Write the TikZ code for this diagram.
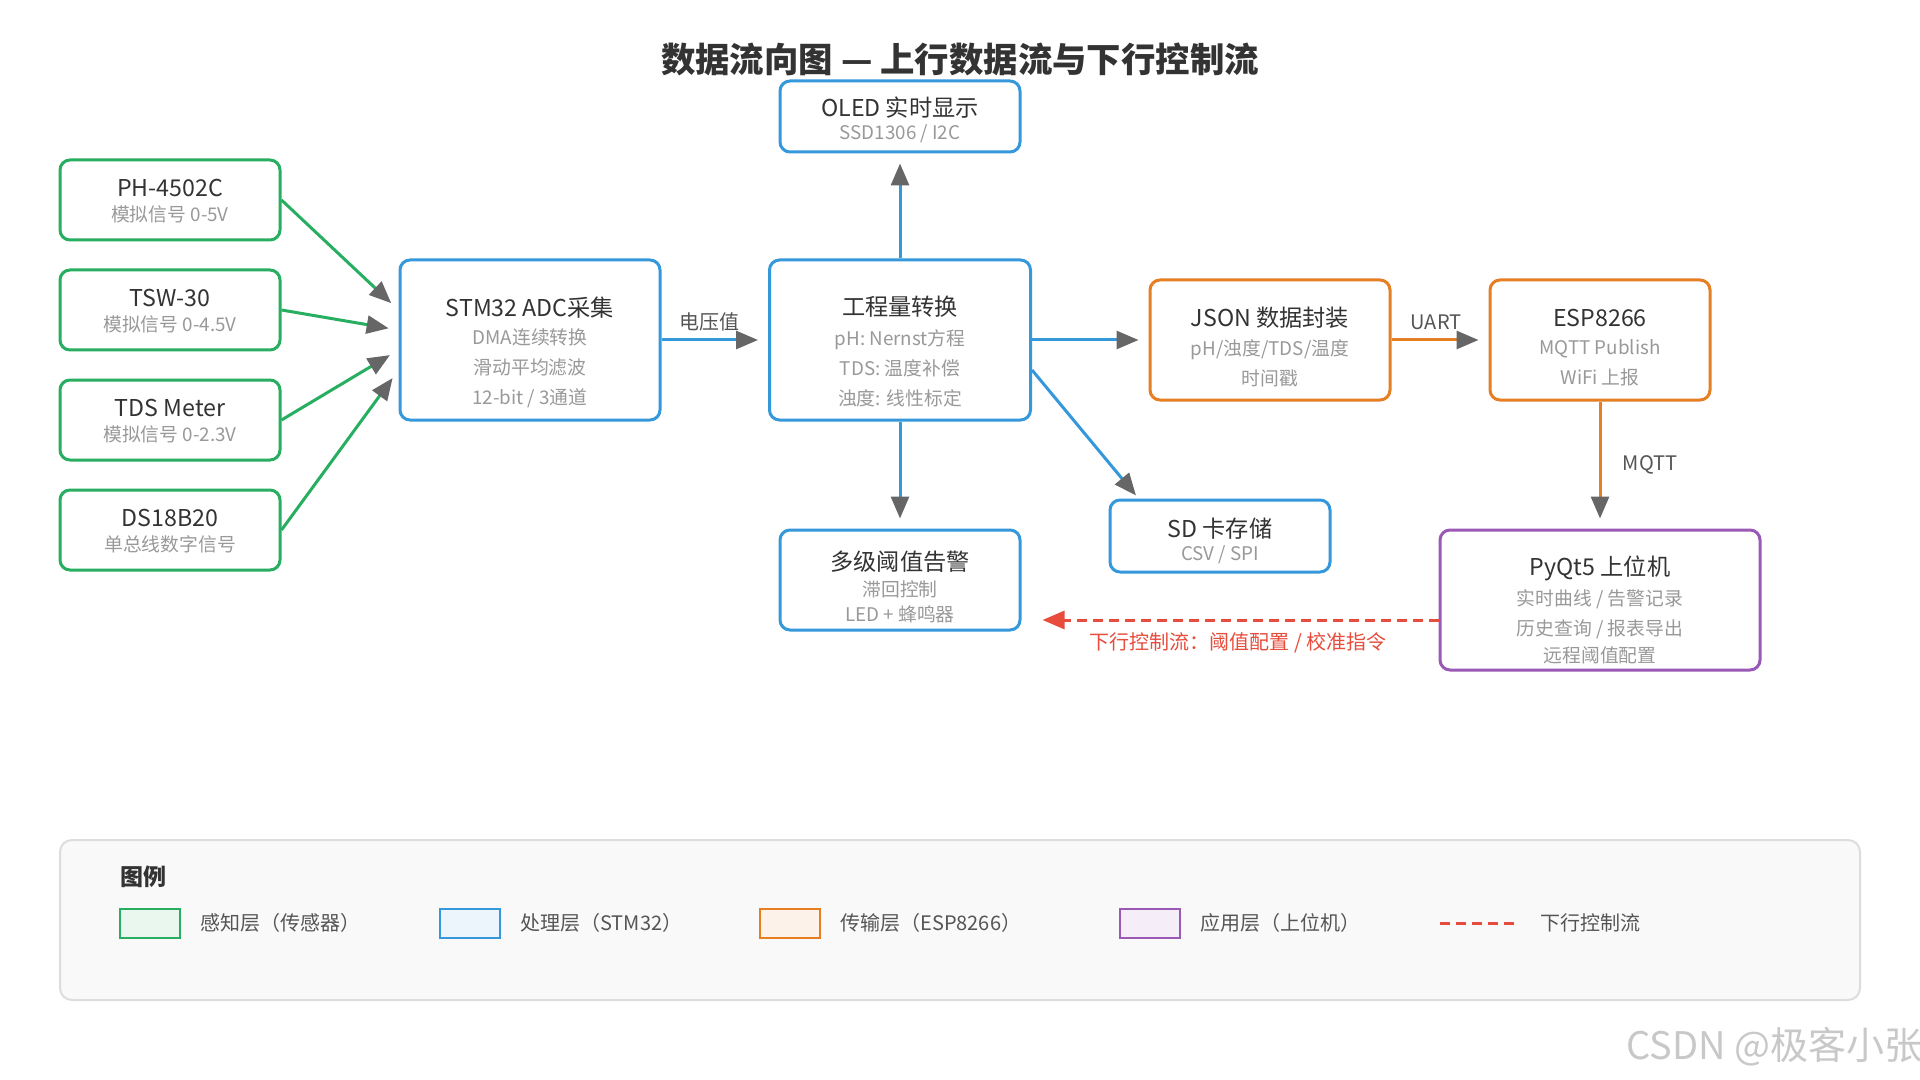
\documentclass[tikz,border=0pt]{standalone}
\usepackage{fontspec}
\setmainfont{Noto Sans CJK SC}
\usetikzlibrary{arrows.meta,calc}
\definecolor{sensegreen}{HTML}{27AE60}
\definecolor{procblue}{HTML}{3498DB}
\definecolor{transorange}{HTML}{E67E22}
\definecolor{apppurple}{HTML}{9B59B6}
\definecolor{ctrlred}{HTML}{E74C3C}
\definecolor{tipgray}{HTML}{666666}
\definecolor{subgray}{HTML}{999999}
\definecolor{ink}{HTML}{333333}
\definecolor{labelgray}{HTML}{555555}
\definecolor{panelbg}{HTML}{F9F9F9}
\definecolor{panelline}{HTML}{DDDDDD}
\definecolor{wmgray}{HTML}{C8C8C8}

\begin{document}
\begin{tikzpicture}[x=0.5pt, y=-0.5pt,
  box/.style={draw, rounded corners=5pt, line width=1.5pt, fill=white},
  sensor/.style={box, draw=sensegreen, minimum width=110pt, minimum height=40pt},
  ttl/.style={font=\fontsize{11.6pt}{14pt}\selectfont, text=ink, inner sep=0pt},
  sub/.style={font=\fontsize{9.4pt}{15pt}\selectfont, text=subgray, align=center, inner sep=0pt},
  flow/.style={line width=1.5pt, shorten >=5pt, -{Triangle[length=11pt,width=9pt,color=tipgray]}},
  ctrlflow/.style={ctrlred, line width=1.5pt, dash pattern=on 5pt off 3pt, shorten >=10.5pt, -{Triangle[length=11pt,width=9pt]}},
  elabel/.style={font=\fontsize{10pt}{12pt}\selectfont, text=labelgray, inner sep=0pt},
  swatch/.style={draw, line width=1.25pt, minimum width=30pt, minimum height=14.5pt, inner sep=0pt},
  legtext/.style={font=\fontsize{10pt}{12pt}\selectfont, text=labelgray, anchor=west, inner sep=0pt},
]
  \fill[white] (0,0) rectangle (1920,1080);
  \useasboundingbox (0,0) rectangle (1920,1080);

  \node[font=\fontsize{17.2pt}{20pt}\selectfont\bfseries, text=ink] (title) at (960,59) {数据流向图 — 上行数据流与下行控制流};

  % sensing layer
  \node[sensor] (ph) at (170,200) {};
  \node[ttl] (ph-t) at (170,188) {PH-4502C};
  \node[sub] (ph-s) at (170,214) {模拟信号 0-5V};
  \node[sensor] (tsw) at (170,310) {};
  \node[ttl] (tsw-t) at (170,298) {TSW-30};
  \node[sub] (tsw-s) at (170,324) {模拟信号 0-4.5V};
  \node[sensor] (tds) at (170,420) {};
  \node[ttl] (tds-t) at (170,408) {TDS Meter};
  \node[sub] (tds-s) at (170,434) {模拟信号 0-2.3V};
  \node[sensor] (ds) at (170,530) {};
  \node[ttl] (ds-t) at (170,518) {DS18B20};
  \node[sub] (ds-s) at (170,544) {单总线数字信号};

  % processing layer
  \node[box, draw=procblue, minimum width=130pt, minimum height=80pt] (adc) at (530,340) {};
  \node[ttl] (adc-t) at (530,308) {STM32 ADC采集};
  \node[sub] (adc-s) at (530,368) {DMA连续转换\\滑动平均滤波\\12-bit / 3通道};
  \node[box, draw=procblue, minimum width=130.5pt, minimum height=80pt] (conv) at (900,340) {};
  \node[ttl] (conv-t) at (900,307) {工程量转换};
  \node[sub] (conv-s) at (900,368) {pH: Nernst方程\\TDS: 温度补偿\\浊度: 线性标定};
  \node[box, draw=procblue, minimum width=120pt, minimum height=35.5pt] (oled) at (900,116.5) {};
  \node[ttl] (oled-t) at (900,108) {OLED 实时显示};
  \node[sub] (oled-s) at (900,134) {SSD1306 / I2C};
  \node[box, draw=procblue, minimum width=120pt, minimum height=50pt] (alarm) at (900,580) {};
  \node[ttl] (alarm-t) at (900,562) {多级阈值告警};
  \node[sub] (alarm-s) at (900,602) {滞回控制\\[-2.5pt]LED + 蜂鸣器};
  \node[box, draw=procblue, minimum width=110pt, minimum height=36pt] (sd) at (1220,536) {};
  \node[ttl] (sd-t) at (1220,529) {SD 卡存储};
  \node[sub] (sd-s) at (1220,555) {CSV / SPI};

  % transport layer
  \node[box, draw=transorange, minimum width=120pt, minimum height=60pt] (json) at (1270,340) {};
  \node[ttl] (json-t) at (1270,318) {JSON 数据封装};
  \node[sub] (json-s) at (1270,363) {pH/浊度/TDS/温度\\时间戳};
  \node[box, draw=transorange, minimum width=110pt, minimum height=60pt] (esp) at (1600,340) {};
  \node[ttl] (esp-t) at (1600,318) {ESP8266};
  \node[sub] (esp-s) at (1600,363) {MQTT Publish\\WiFi 上报};

  % application layer
  \node[box, draw=apppurple, minimum width=160pt, minimum height=70pt] (pc) at (1600,600) {};
  \node[ttl] (pc-t) at (1600,568) {PyQt5 上位机};
  \node[sub] (pc-s) at (1600,627) {实时曲线 / 告警记录\\历史查询 / 报表导出\\[-1.5pt]远程阈值配置};

  \draw[flow, sensegreen] (ph.east) -- ($(adc.west)+(0,-30)$);
  \draw[flow, sensegreen] (tsw.east) -- ($(adc.west)+(0,-10)$);
  \draw[flow, sensegreen] (tds.east) -- ($(adc.west)+(0,10)$);
  \draw[flow, sensegreen] (ds.east) -- ($(adc.west)+(0,30)$);
  \draw[flow, procblue] (adc.east) -- node[elabel, pos=0.45, yshift=9pt] (volt-l) {电压值} (conv.west);
  \draw[flow, procblue] (conv.north) -- (oled.south);
  \draw[flow, procblue] (conv.south) -- (alarm.north);
  \draw[flow, procblue] (conv.east) -- (json.west);
  \draw[flow, procblue, shorten >=2pt] ($(conv.east)+(0,30)$) -- ($(sd.north west)+(30,0)$);
  \draw[flow, transorange] (json.east) -- node[elabel, pos=0.46, yshift=9pt] (uart-l) {UART} (esp.west);
  \draw[flow, transorange] (esp.south) -- node[elabel, xshift=25pt] (mqtt-l) {MQTT} (pc.north);
  \draw[ctrlflow] ($(pc.west)+(0,20)$) -- node[pos=0.48, yshift=-11.5pt, font=\fontsize{10pt}{12pt}\selectfont, text=ctrlred, inner sep=0pt] (ctl-l) {下行控制流：阈值配置 / 校准指令} ($(alarm.east)+(0,40)$);

  % legend
  \node[draw=panelline, fill=panelbg, line width=1pt, rounded corners=6pt, minimum width=900pt, minimum height=80pt] (legend) at (960,920) {};
  \node[font=\fontsize{11.5pt}{14pt}\selectfont\bfseries, text=ink, anchor=west, inner sep=0pt] (leg-t) at (120,877) {图例};
  \node[swatch, draw=sensegreen, fill=sensegreen!10] (sw-sense) at (150,923.5) {};
  \node[legtext] (lt-sense) at (200,923) {感知层（传感器）};
  \node[swatch, draw=procblue, fill=procblue!10] (sw-proc) at (470,923.5) {};
  \node[legtext] (lt-proc) at (520,923) {处理层（STM32）};
  \node[swatch, draw=transorange, fill=transorange!10] (sw-trans) at (790,923.5) {};
  \node[legtext] (lt-trans) at (840,923) {传输层（ESP8266）};
  \node[swatch, draw=apppurple, fill=apppurple!10] (sw-app) at (1150,923.5) {};
  \node[legtext] (lt-app) at (1200,923) {应用层（上位机）};
  \draw[ctrlred, line width=1.5pt, dash pattern=on 5pt off 3pt] (1440,923) -- (1515,923);
  \node[legtext] (lt-ctrl) at (1540,923) {下行控制流};

  \node[font=\fontsize{19pt}{22pt}\selectfont, text=wmgray, anchor=west, inner sep=0pt] (wm) at (1626,1047) {CSDN @极客小张};
\end{tikzpicture}
\end{document}
